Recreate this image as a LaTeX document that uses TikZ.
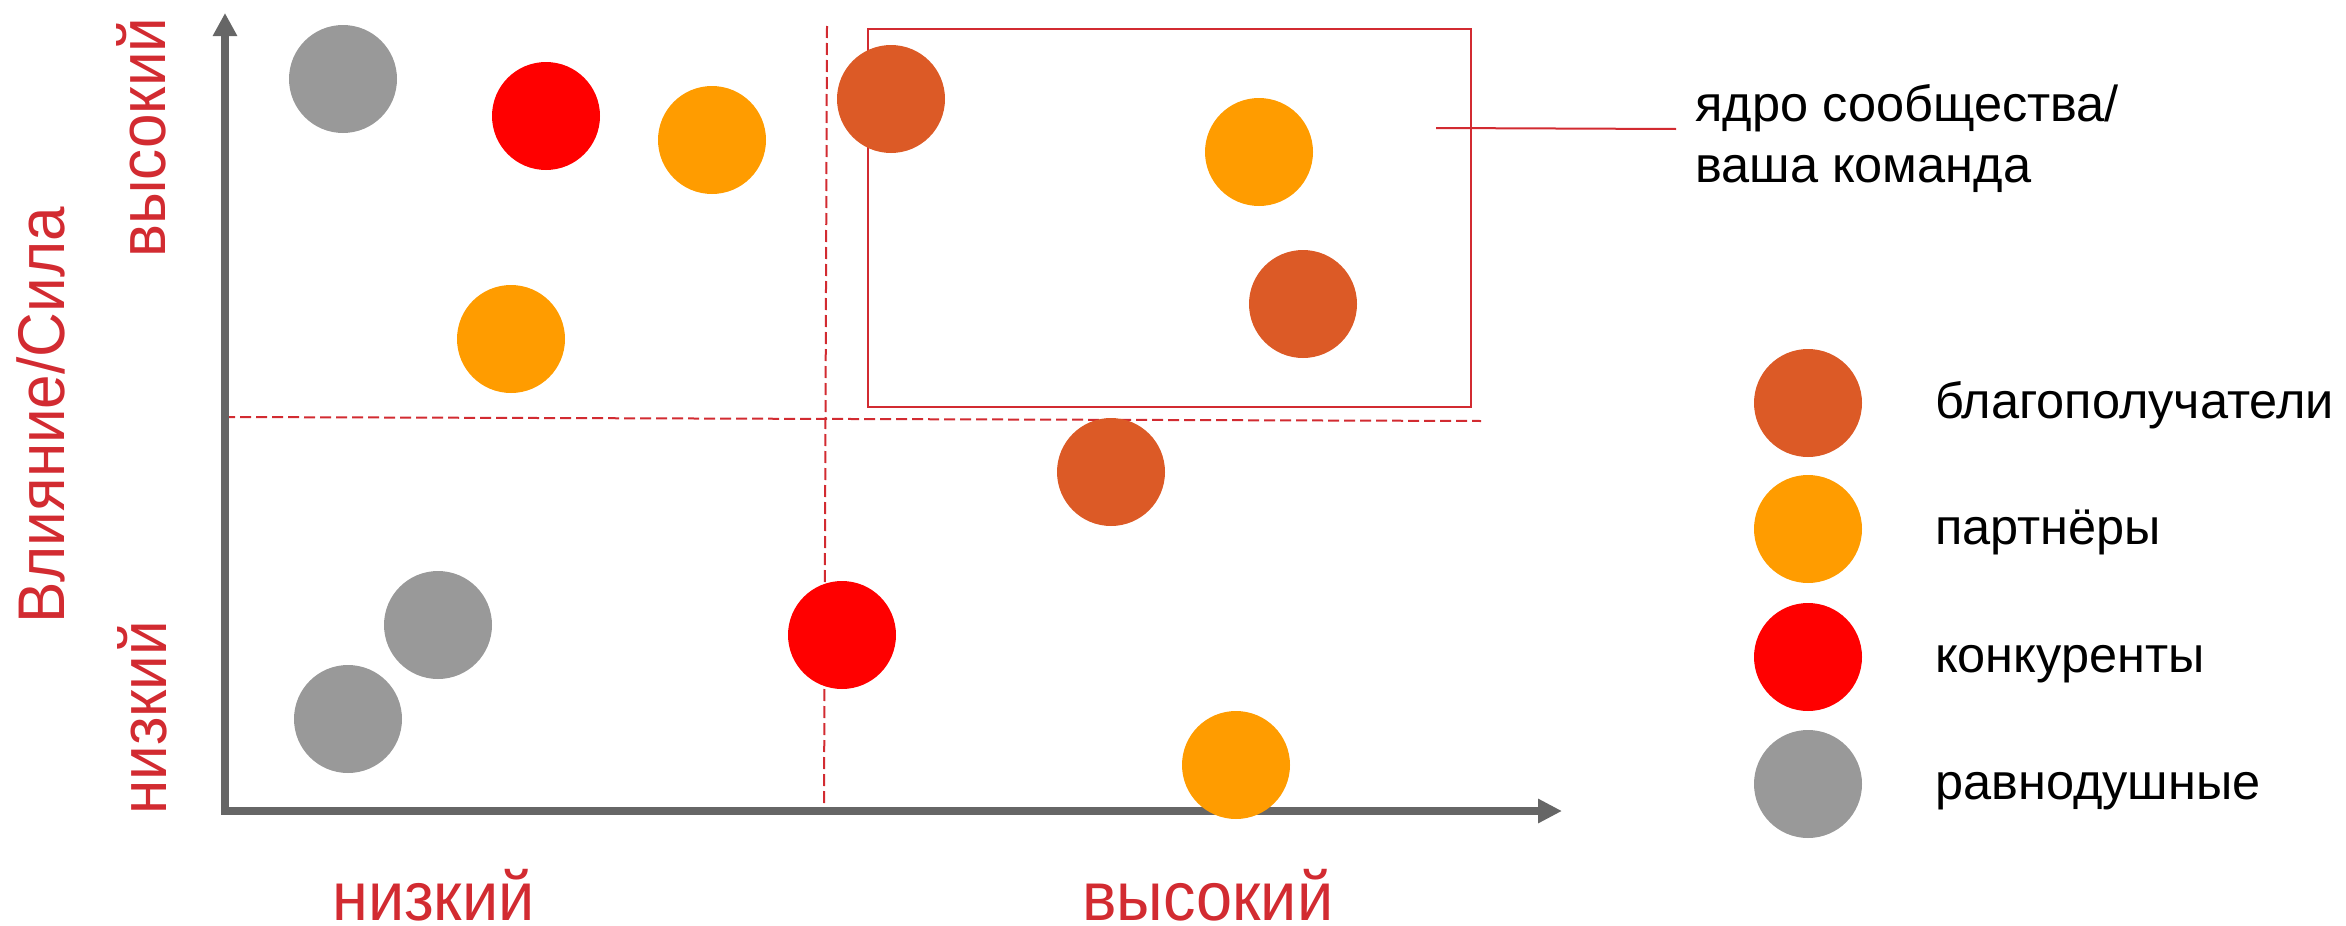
\documentclass[tikz,border=0pt]{standalone}
\usepackage{fontspec}
\setmainfont{Liberation Sans}
\newfontfamily\redfont[FakeStretch=0.94]{Liberation Sans}
\usetikzlibrary{arrows.meta}
\definecolor{cbrown}{HTML}{DC5A26}
\definecolor{corange}{HTML}{FF9C00}
\definecolor{cred}{HTML}{FF0000}
\definecolor{cgray}{HTML}{999999}
\definecolor{caxis}{HTML}{666666}
\definecolor{lred}{HTML}{D22B31}
\tikzset{
  dot/.style={circle, minimum size=108pt, inner sep=0pt, draw=none},
  ben/.style={dot, fill=cbrown},
  par/.style={dot, fill=corange},
  con/.style={dot, fill=cred},
  ind/.style={dot, fill=cgray},
  axisline/.style={draw=caxis, line width=8pt, line join=miter},
  guide/.style={draw=lred, line width=2pt, dash pattern=on 11pt off 5pt},
  corebox/.style={draw=lred, line width=2pt},
  redlabel/.style={text=lred, font=\redfont\fontsize{66}{79}\selectfont, inner sep=0pt, text depth=0pt},
  xlabel/.style={redlabel, font=\redfont\fontsize{69}{80}\selectfont, anchor=base west},
  blacklabel/.style={text=black, font=\fontsize{50.5}{61}\selectfont, inner sep=0pt, anchor=base west},
}
\begin{document}
\begin{tikzpicture}[x=1pt,y=-1pt]
\useasboundingbox (0,0) rectangle (2346,926);
% guides
\coordinate (vt) at (827,26);
\coordinate (vb) at (824,809);
\coordinate (hl) at (224,417);
\coordinate (hr) at (1481,421);
\draw[guide, dash pattern=on 12pt off 5pt] (vt) -- (vb);
\draw[guide] (hl) -- (hr);
% core box
\node[corebox, minimum width=603pt, minimum height=378pt, inner sep=0pt, anchor=north west] (box) at (867,28) {};
\coordinate (cs) at (1436,128);
\coordinate (ce) at (1676,129);
\draw[lred, line width=2pt] (cs) -- (ce);
% axes
\coordinate (ytip) at (225,13);
\coordinate (orig) at (225,811);
\coordinate (xtip) at (1562,811);
\draw[axisline, {Triangle[length=23pt,width=23pt]}-{Triangle[length=24pt,width=23pt]}] (ytip) -- (orig) -- (xtip);
% dots
\node[ind] (g1) at (343,79) {};
\node[con] (r1) at (546,116) {};
\node[par] (o1) at (712,140) {};
\node[par] (o2) at (511,339) {};
\node[ben] (b1) at (891,99) {};
\node[par] (o3) at (1259,152) {};
\node[ben] (b2) at (1303,304) {};
\node[ben] (b3) at (1111,472) {};
\node[ind] (g2) at (438,625) {};
\node[ind] (g3) at (348,719) {};
\node[con] (r2) at (842,635) {};
\node[par] (o4) at (1236,765) {};
% core label
\node[blacklabel] (core1) at (1695,121) {ядро сообщества/};
\node[blacklabel] (core2) at (1695,182) {ваша команда};
% legend
\node[ben] (lb) at (1808,403) {};
\node[par] (lp) at (1808,529) {};
\node[con] (lc) at (1808,657) {};
\node[ind] (li) at (1808,784) {};
\node[blacklabel] (tb) at (1935,418) {благополучатели};
\node[blacklabel] (tp) at (1935,544) {партнёры};
\node[blacklabel] (tc) at (1935,672) {конкуренты};
\node[blacklabel] (ti) at (1935,799) {равнодушные};
% axis labels
\node[redlabel, rotate=90, anchor=base west] (ylab) at (64,624) {Влияние/Сила};
\node[redlabel, rotate=90, anchor=base west] (yhi) at (165,258) {высокий};
\node[redlabel, rotate=90, anchor=base west] (ylo) at (166,815) {низкий};
\node[xlabel] (xlo) at (332,920) {низкий};
\node[xlabel] (xhi) at (1082,920) {высокий};
\end{tikzpicture}
\end{document}
